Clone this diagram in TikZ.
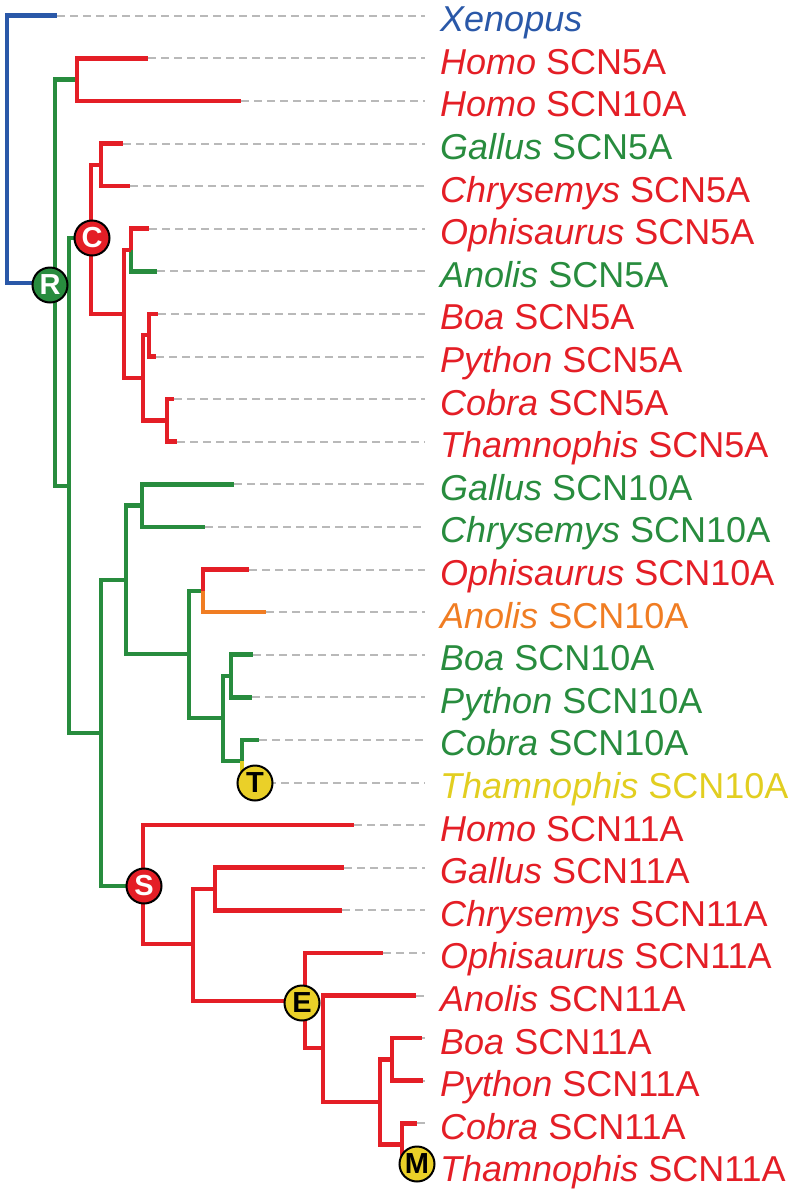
\documentclass[tikz,border=0pt]{standalone}
\usepackage{fontspec}
\setmainfont{Liberation Sans}

\definecolor{treered}{RGB}{228,30,38}
\definecolor{treegreen}{RGB}{40,140,62}
\definecolor{treeblue}{RGB}{42,88,168}
\definecolor{treeorange}{RGB}{240,125,35}
\definecolor{treeyellow}{RGB}{226,206,32}
\definecolor{badgeyellow}{RGB}{234,208,40}
\definecolor{dashgray}{RGB}{185,185,185}

\begin{document}
\begin{tikzpicture}[
    x=1pt, y=-1pt,
    br/.style={line width=4.5pt,line join=miter},
    dashln/.style={dashgray,line width=2pt,dash pattern=on 8pt off 5pt},
    lab/.style={anchor=west,inner xsep=15pt,inner ysep=0pt,text height=32pt,text depth=0pt,font=\fontsize{36}{36}\selectfont},
    badge/.style={circle,draw=black,line width=2pt,minimum size=35pt,inner sep=0pt,font=\fontsize{29}{29}\selectfont\bfseries}
]
\useasboundingbox (0,0) rectangle (800,1195);

% leaf labels
\node[lab,text=treeblue]   (xen)    at (425,15.7)   {\textit{Xenopus}};
\node[lab,text=treered]    (hom5)   at (425,58.3)   {\textit{Homo} SCN5A};
\node[lab,text=treered]    (hom10)  at (425,100.9)  {\textit{Homo} SCN10A};
\node[lab,text=treegreen]  (gal5)   at (425,143.5)  {\textit{Gallus} SCN5A};
\node[lab,text=treered]    (chr5)   at (425,186.1)  {\textit{Chrysemys} SCN5A};
\node[lab,text=treered]    (oph5)   at (425,228.7)  {\textit{Ophisaurus} SCN5A};
\node[lab,text=treegreen]  (ano5)   at (425,271.3)  {\textit{Anolis} SCN5A};
\node[lab,text=treered]    (boa5)   at (425,313.9)  {\textit{Boa} SCN5A};
\node[lab,text=treered]    (pyt5)   at (425,356.5)  {\textit{Python} SCN5A};
\node[lab,text=treered]    (cob5)   at (425,399.1)  {\textit{Cobra} SCN5A};
\node[lab,text=treered]    (tha5)   at (425,441.7)  {\textit{Thamnophis} SCN5A};
\node[lab,text=treegreen]  (gal10)  at (425,484.3)  {\textit{Gallus} SCN10A};
\node[lab,text=treegreen]  (chr10)  at (425,526.9)  {\textit{Chrysemys} SCN10A};
\node[lab,text=treered]    (oph10)  at (425,569.5)  {\textit{Ophisaurus} SCN10A};
\node[lab,text=treeorange] (ano10)  at (425,612.1)  {\textit{Anolis} SCN10A};
\node[lab,text=treegreen]  (boa10)  at (425,654.7)  {\textit{Boa} SCN10A};
\node[lab,text=treegreen]  (pyt10)  at (425,697.3)  {\textit{Python} SCN10A};
\node[lab,text=treegreen]  (cob10)  at (425,739.9)  {\textit{Cobra} SCN10A};
\node[lab,text=treeyellow] (tha10)  at (425,782.5)  {\textit{Thamnophis} SCN10A};
\node[lab,text=treered]    (hom11)  at (425,825.1)  {\textit{Homo} SCN11A};
\node[lab,text=treered]    (gal11)  at (425,867.7)  {\textit{Gallus} SCN11A};
\node[lab,text=treered]    (chr11)  at (425,910.3)  {\textit{Chrysemys} SCN11A};
\node[lab,text=treered]    (oph11)  at (425,952.9)  {\textit{Ophisaurus} SCN11A};
\node[lab,text=treered]    (ano11)  at (425,995.5)  {\textit{Anolis} SCN11A};
\node[lab,text=treered]    (boa11)  at (425,1038.1) {\textit{Boa} SCN11A};
\node[lab,text=treered]    (pyt11)  at (425,1080.7) {\textit{Python} SCN11A};
\node[lab,text=treered]    (cob11)  at (425,1123.3) {\textit{Cobra} SCN11A};
\node[lab,text=treered]    (tha11)  at (425,1165.9) {\textit{Thamnophis} SCN11A};

% branch tips
\coordinate (txen) at (57,15.7);
\coordinate (thom5) at (148,58.3);
\coordinate (thom10) at (241,100.9);
\coordinate (tgal5) at (123,143.5);
\coordinate (tchr5) at (130,186.1);
\coordinate (toph5) at (149,228.7);
\coordinate (tano5) at (157,271.3);
\coordinate (tboa5) at (158,313.9);
\coordinate (tpyt5) at (156,356.5);
\coordinate (tcob5) at (174,399.1);
\coordinate (ttha5) at (177,441.7);
\coordinate (tgal10) at (234,484.3);
\coordinate (tchr10) at (205,526.9);
\coordinate (toph10) at (249,569.5);
\coordinate (tano10) at (266,612.1);
\coordinate (tboa10) at (253,654.7);
\coordinate (tpyt10) at (252,697.3);
\coordinate (tcob10) at (259,739.9);
\coordinate (ttha10) at (255,782.5);
\coordinate (thom11) at (354,825.1);
\coordinate (tgal11) at (344,867.7);
\coordinate (tchr11) at (342,910.3);
\coordinate (toph11) at (383,952.9);
\coordinate (tano11) at (416,995.5);
\coordinate (tboa11) at (422,1038.1);
\coordinate (tpyt11) at (423,1080.7);
\coordinate (tcob11) at (417,1123.3);
\coordinate (ttha11) at (417,1165.9);

% inner nodes
\coordinate (root) at (7,150);
\coordinate (nR) at (55,282.8);
\coordinate (nH) at (77,79.6);
\coordinate (nA) at (69,486);
\coordinate (nC) at (91,238);
\coordinate (nGC) at (101,164.8);
\coordinate (nSq) at (124,314);
\coordinate (nOA) at (131,250);
\coordinate (nSn) at (143,378);
\coordinate (nBP) at (149,335.2);
\coordinate (nCT) at (167,420.4);
\coordinate (nB) at (101,733);
\coordinate (n10) at (126,580);
\coordinate (nGC10) at (142,505.6);
\coordinate (nSq10) at (189,654);
\coordinate (nOA10) at (203,590.8);
\coordinate (nSn10) at (223,718);
\coordinate (nBP10) at (231,676);
\coordinate (nCT10) at (242,761.2);
\coordinate (nS) at (143,886);
\coordinate (nGCE) at (193,944);
\coordinate (nGC11) at (215,889);
\coordinate (nE) at (305,1001);
\coordinate (nAS) at (323,1048);
\coordinate (nSn11) at (380,1102);
\coordinate (nBP11) at (392,1059.4);
\coordinate (nCT11) at (402,1144.6);

% grey guides to the labels
\draw[dashln] (txen) -- (xen) (thom5) -- (hom5) (thom10) -- (hom10) (tgal5) -- (gal5)
  (tchr5) -- (chr5) (toph5) -- (oph5) (tano5) -- (ano5) (tboa5) -- (boa5) (tpyt5) -- (pyt5)
  (tcob5) -- (cob5) (ttha5) -- (tha5) (tgal10) -- (gal10) (tchr10) -- (chr10) (toph10) -- (oph10)
  (tano10) -- (ano10) (tboa10) -- (boa10) (tpyt10) -- (pyt10) (tcob10) -- (cob10) (ttha10) -- (tha10)
  (thom11) -- (hom11) (tgal11) -- (gal11) (tchr11) -- (chr11) (toph11) -- (oph11) (tano11) -- (ano11)
  (tboa11) -- (boa11) (tpyt11) -- (pyt11) (tcob11) -- (cob11) (ttha11) -- (tha11);

% branches
\draw[br,treeblue] (root) |- (txen) (root) |- (nR);
\draw[br,treegreen] (nR) |- (nH) (nR) |- (nA) (nA) |- (nC) (nA) |- (nB) (nOA) |- (tano5)
  (nB) |- (n10) (nB) |- (nS) (n10) |- (nGC10) (nGC10) |- (tgal10) (nGC10) |- (tchr10)
  (n10) |- (nSq10) (nSq10) |- (nOA10) (nSq10) |- (nSn10) (nSn10) |- (nBP10)
  (nBP10) |- (tboa10) (nBP10) |- (tpyt10) (nSn10) |- (nCT10) (nCT10) |- (tcob10);
\draw[br,treered] (nH) |- (thom5) (nH) |- (thom10) (nC) |- (nGC) (nGC) |- (tgal5) (nGC) |- (tchr5)
  (nC) |- (nSq) (nSq) |- (nOA) (nOA) |- (toph5) (nSq) |- (nSn) (nSn) |- (nBP) (nBP) |- (tboa5)
  (nBP) |- (tpyt5) (nSn) |- (nCT) (nCT) |- (tcob5) (nCT) |- (ttha5) (nOA10) |- (toph10);
\draw[br,treered] (nS) |- (thom11) (nS) |- (nGCE) (nGCE) |- (nGC11) (nGC11) |- (tgal11)
  (nGC11) |- (tchr11) (nGCE) |- (nE) (nE) |- (toph11) (nE) |- (nAS) (nAS) |- (tano11)
  (nAS) |- (nSn11) (nSn11) |- (nBP11) (nBP11) |- (tboa11) (nBP11) |- (tpyt11)
  (nSn11) |- (nCT11) (nCT11) |- (tcob11) (nCT11) |- (ttha11);
\draw[br,treeorange] (nOA10) |- (tano10);
\draw[br,treeyellow] (nCT10) |- (ttha10);

% event badges
\node[badge,fill=treegreen,text=white] (R) at (50,285) {R};
\node[badge,fill=treered,text=white] (C) at (92,238) {C};
\node[badge,fill=badgeyellow] (T) at (255,783) {T};
\node[badge,fill=treered,text=white] (S) at (144,886) {S};
\node[badge,fill=badgeyellow] (E) at (302,1003) {E};
\node[badge,fill=badgeyellow] (M) at (417,1164) {M};
\end{tikzpicture}
\end{document}
